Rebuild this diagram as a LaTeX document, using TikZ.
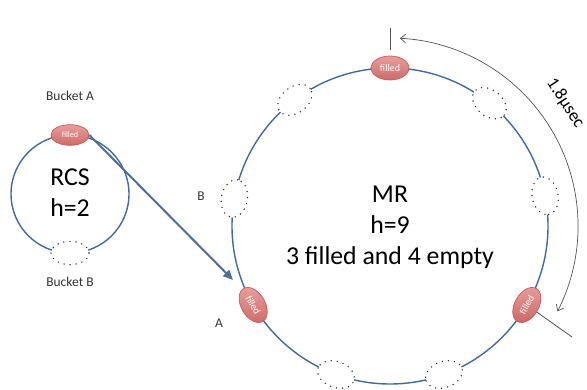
\documentclass[tikz,border=0pt]{standalone}
\usepackage{fontspec}
\setmainfont{Carlito}
\usetikzlibrary{arrows.meta, shapes.geometric, calc}
\definecolor{ring}{HTML}{3F6C9C}
\definecolor{bucketfill}{HTML}{DF7472}
\definecolor{bucketedge}{HTML}{C65C59}
\definecolor{pointer}{HTML}{4D6F99}
\definecolor{tickgray}{HTML}{555555}

\begin{document}
\begin{tikzpicture}[
    x=0.3mm, y=0.3mm,
    ringline/.style={circle, draw=ring, line width=1.2pt, inner sep=0pt, outer sep=0pt},
    full/.style={ellipse, top color=bucketfill!70!white, bottom color=bucketfill!92!black,
                 draw=bucketedge, line width=0.6pt,
                 minimum width=11.4mm, minimum height=7.2mm, inner sep=0pt,
                 text=white, font=\fontsize{8.5}{9}\selectfont},
    empty/.style={ellipse, fill=white, draw=black!85, line width=1.3pt,
                  dash pattern=on 0pt off 5.2pt, line cap=round,
                  minimum width=11.4mm, minimum height=7.8mm, inner sep=0pt},
    bigtxt/.style={font=\fontsize{22}{26.5}\selectfont, align=center},
    lbl/.style={font=\fontsize{11.5}{13}\selectfont, text=black!80},
    pointer/.style={draw=pointer, line width=1.7pt, -{Triangle[length=3mm, width=2.6mm]}},
    timing/.style={draw=tickgray, line width=0.6pt,
                   {Straight Barb[length=1.6mm, width=2.6mm]}-{Straight Barb[length=1.6mm, width=2.6mm]}},
    tick/.style={draw=tickgray, line width=0.7pt},
]
    \useasboundingbox (0,0) rectangle (587,390);

    % RCS ring
    \node[ringline, minimum size=35.4mm] (rcs) at (70,196) {};
    \node[bigtxt] (rcstext) at (70,197) {RCS\\h=2};
    \node[full, font=\fontsize{7}{8}\selectfont, minimum height=6.2mm] (rcsa) at (rcs.90) {filled};
    \node[empty, minimum height=7mm] (rcsb) at (rcs.270) {};
    \node[lbl] (bucketa) at (70,294) {Bucket A};
    \node[lbl] (bucketb) at (70,108) {Bucket B};

    % MR ring
    \node[ringline, minimum size=94.8mm] (mr) at (390,164) {};
    \node[bigtxt] (mrtext) at (390,163) {MR\\h=9\\3 filled and 4 empty};
    \foreach \ang/\rot [count=\i] in {90/0, 210/-60, 330/60}
        \node[full, rotate=\rot] (mrfull\i) at (mr.\ang) {filled};
    \foreach \ang [count=\i] in {127, 51, 170, 11, 250, 290}
        \node[empty, rotate=\ang-90] (mrempty\i) at (mr.\ang) {};
    \node[lbl] (labelb) at (201,194) {B};
    \node[lbl] (labela) at (219,67) {A};

    % bucket A moves over
    \coordinate (hit) at (233,110);
    \draw[pointer] (rcsa.east) -- (hit);

    % one turn of the ring
    \coordinate (tstart) at ($(mr.center)+(-27:188)$);
    \draw[timing] (tstart) arc[start angle=-27, end angle=87, radius=188];
    \node[font=\fontsize{15}{16}\selectfont, rotate=-57] (tlabel) at ($(mr.center)+(35:214)$) {1.8µsec};
    \coordinate (tick1) at (390,362);
    \coordinate (tick2) at (572,53);
    \draw[tick, shorten <=5pt] (mrfull1) -- (tick1);
    \draw[tick] (mrfull3) -- (tick2);
\end{tikzpicture}
\end{document}
